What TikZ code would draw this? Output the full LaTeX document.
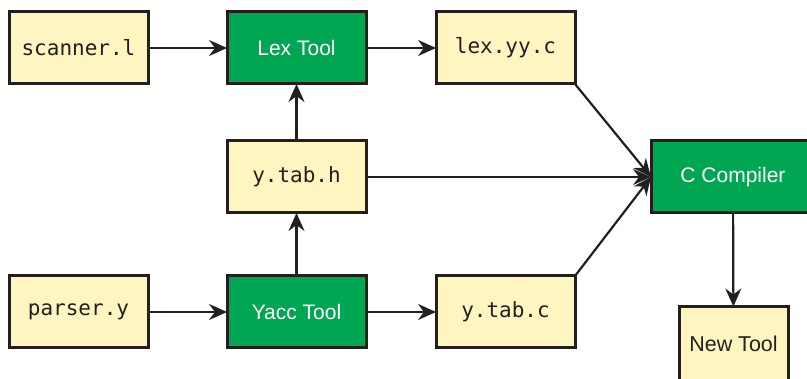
\documentclass[tikz,border=0pt]{standalone}
\usepackage{fontspec}
\setmainfont{Liberation Sans}
\newfontfamily\codefont{DejaVu Sans Mono}
\usetikzlibrary{arrows.meta}
\definecolor{boxgreen}{RGB}{0,166,81}
\definecolor{boxyellow}{RGB}{255,245,192}
\definecolor{inkc}{RGB}{35,31,32}
\tikzset{
  filebox/.style={draw=inkc, line width=3pt, fill=boxyellow, minimum width=139pt, minimum height=72pt, inner sep=0pt, outer sep=0pt, font=\codefont\fontsize{21pt}{24pt}\selectfont, text=inkc},
  toolbox/.style={draw=inkc, line width=3pt, fill=boxgreen, minimum width=139pt, minimum height=72pt, inner sep=0pt, outer sep=0pt, font=\fontsize{21pt}{24pt}\selectfont, text=white},
  flow/.style={draw=inkc, line width=2.2pt, -{Stealth[length=18pt, width=16pt, inset=6pt]}}
}
\begin{document}
\begin{tikzpicture}[x=1pt, y=-1pt]
\useasboundingbox (0,0) rectangle (807,379);
\node[filebox] (scan) at (78.5,48) {scanner.l};
\node[toolbox] (lex) at (296.5,48) {Lex Tool};
\node[filebox] (lexc) at (505.5,48) {lex.yy.c};
\node[filebox] (tabh) at (296.5,177) {y.tab.h};
\node[toolbox, minimum width=164pt] (cc) at (733,177) {C Compiler};
\node[filebox] (pars) at (78.5,312) {parser.y};
\node[toolbox] (yacc) at (296.5,312) {Yacc Tool};
\node[filebox] (tabc) at (505.5,312) {y.tab.c};
\node[filebox, minimum width=109pt, minimum height=75pt, font=\fontsize{21.5pt}{24pt}\selectfont] (new) at (733.5,344) {New Tool};
\draw[flow] (scan) -- (lex);
\draw[flow] (lex) -- (lexc);
\draw[flow] (tabh) -- (lex);
\draw[flow] (yacc) -- (tabh);
\draw[flow] (pars) -- (yacc);
\draw[flow] (yacc) -- (tabc);
\draw[flow] (lexc.south east) -- (cc.west);
\draw[flow] (tabh) -- (cc);
\draw[flow] (tabc.north east) -- (cc.west);
\draw[flow] (cc) -- (new);
\end{tikzpicture}
\end{document}
